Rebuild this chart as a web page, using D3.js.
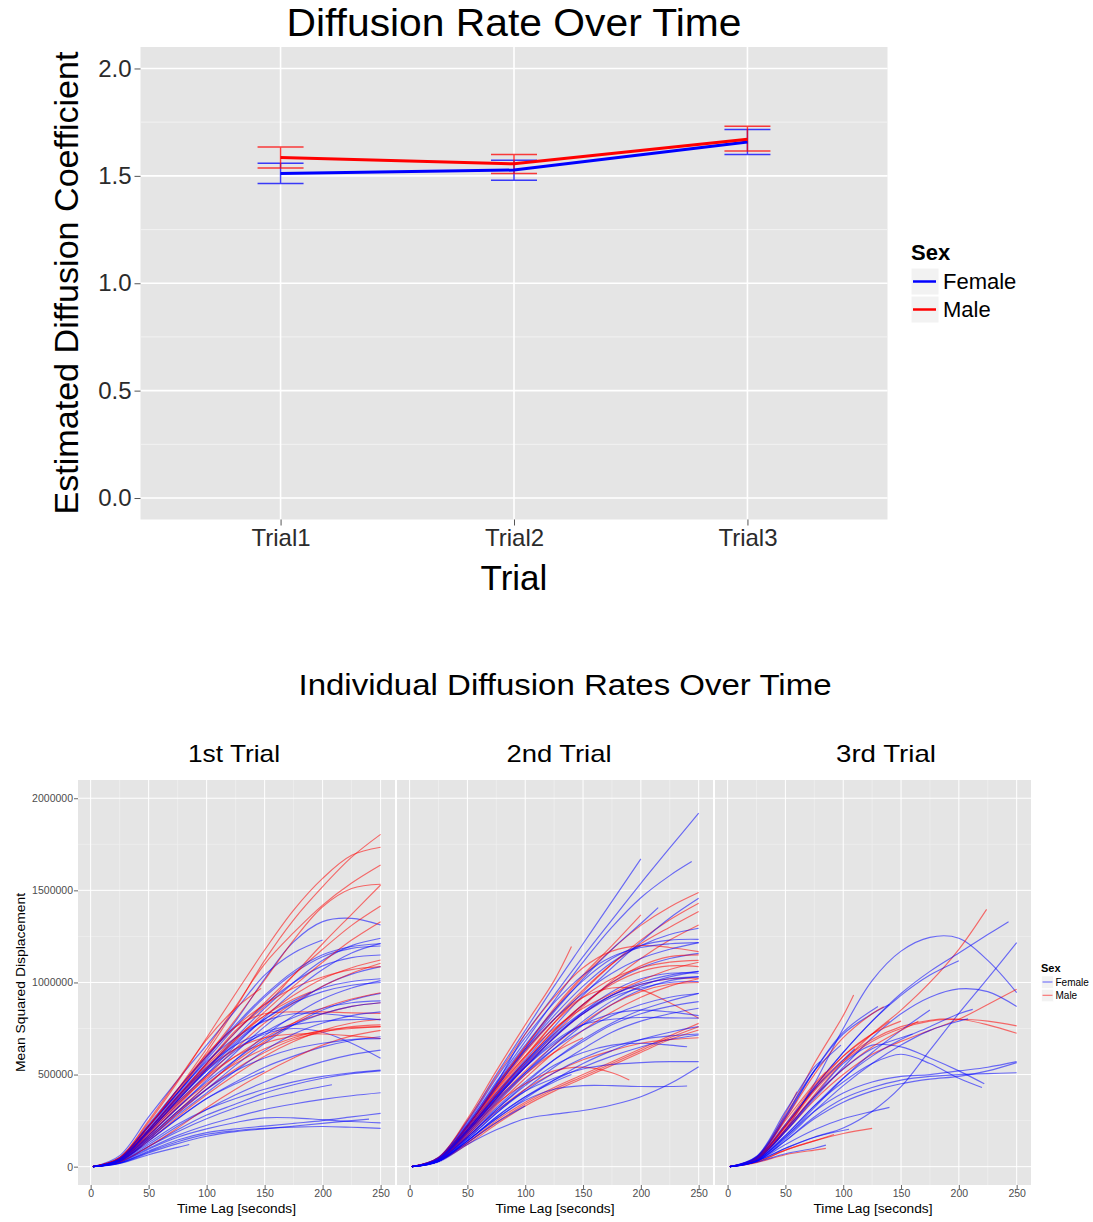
<!DOCTYPE html>
<html>
<head>
<meta charset="utf-8">
<script src="https://cdn.jsdelivr.net/npm/d3@7"></script>
<style>
  body { margin:0; background:#fff; }
  text { font-family: 'Liberation Sans', Arial, Helvetica, sans-serif; }
  .axis path.domain { display:none; }
</style>
</head>
<body>
<svg id="chart" width="1093" height="1222"></svg>
<script>
// ---------- top chart : mean diffusion coefficient per trial ----------
var trials     = ["Trial1", "Trial2", "Trial3"];
var femaleMean = [1.511, 1.527, 1.658];
var femaleLo   = [1.464, 1.480, 1.599];
var femaleHi   = [1.559, 1.573, 1.716];
var maleMean   = [1.585, 1.556, 1.671];
var maleLo     = [1.537, 1.511, 1.616];
var maleHi     = [1.634, 1.599, 1.731];
var coefTicks  = [0, 0.5, 1, 1.5, 2];
var coefMinor  = [0.25, 0.75, 1.25, 1.75];

// ---------- bottom chart : individual MSD curves ----------
// each curve: [end lag, msd (thousands) at lags 2,25,50,... , msd at end lag]
var lagSteps = [2, 25, 50, 75, 100, 125, 150, 175, 200, 225, 250];
var lagTicks = [0, 50, 100, 150, 200, 250];
var lagMinor = [25, 75, 125, 175, 225];
var msdTicks = [0, 500000, 1000000, 1500000, 2000000];
var msdMinor = [250000, 750000, 1250000, 1750000];
var panelTitles = ["1st Trial", "2nd Trial", "3rd Trial"];

var t1Female = [
  [250, 0,50,220,400,590,790,1020,1220,1330,1348,1312],
  [200, 0,60,270,470,660,850,1040,1160,1230],
  [250, 0,40,190,360,530,700,860,1000,1120,1200,1240],
  [250, 0,40,180,340,500,660,810,950,1070,1160,1212],
  [250, 0,45,220,400,580,760,920,1050,1140,1185,1198],
  [250, 0,45,210,390,560,730,880,1000,1090,1135,1149],
  [250, 0,35,170,320,470,620,760,880,980,1045,1086],
  [250, 0,35,160,300,440,580,710,820,910,970,1010],
  [250, 0,30,150,290,420,550,670,770,850,905,941],
  [250, 0,40,190,350,500,630,730,810,860,890,900],
  [250, 0,45,220,400,570,700,790,830,830,815,796],
  [250, 0,30,140,260,370,460,540,600,650,685,705],
  [250, 0,28,120,220,310,390,460,520,570,608,633],
  [250, 0,40,190,360,520,640,720,750,730,670,588],
  [250, 0,30,130,230,310,370,420,460,490,510,524],
  [250, 0,25,110,200,280,340,400,445,480,505,520],
  [208, 0,25,110,190,260,320,370,405,435,445],
  [250, 0,25,100,170,225,270,310,340,365,385,401],
  [250, 0,20,85,145,185,205,220,235,250,270,289],
  [250, 0,22,95,160,205,240,265,265,255,245,238],
  [250, 0,20,80,135,175,195,208,215,218,214,208],
  [240, 0,18,75,125,165,190,205,220,235,250,258],
  [85, 0,18,65,105,120],
  [250, 0,40,190,360,520,670,800,900,970,1005,1020],
  [250, 0,45,230,420,600,770,930,1060,1150,1195,1210],
  [250, 0,35,170,320,460,580,690,770,830,870,890],
  [150, 0,30,140,260,370,450,520],
  [250, 0,30,150,280,400,520,630,720,780,820,840],
  [250, 0,40,200,370,530,680,800,890,950,985,1000],
  [250, 0,40,200,380,540,660,730,770,790,798,800],
  [250, 0,35,160,300,420,520,590,640,670,690,695]
];
var t1Male = [
  [250, 0,45,220,400,620,860,1120,1340,1520,1680,1804],
  [250, 0,50,240,460,700,940,1176,1393,1565,1690,1734],
  [250, 0,45,220,420,640,870,1100,1270,1420,1540,1638],
  [250, 0,45,220,410,600,800,1013,1230,1411,1510,1533],
  [250, 0,40,200,380,560,740,870,1040,1210,1370,1529],
  [250, 0,40,200,380,560,730,890,1040,1180,1310,1415],
  [250, 0,40,190,360,530,690,840,980,1110,1230,1330],
  [250, 0,40,200,370,540,690,820,930,1020,1080,1122],
  [250, 0,35,170,330,490,640,780,890,980,1050,1104],
  [250, 0,45,220,420,600,760,880,970,1030,1070,1086],
  [250, 0,35,160,300,440,570,680,780,860,910,944],
  [250, 0,40,180,340,480,600,700,780,830,870,890],
  [250, 0,45,220,420,610,760,830,840,840,835,832],
  [250, 0,30,140,270,390,500,600,680,740,780,800],
  [250, 0,35,170,320,450,560,640,700,740,755,760],
  [250, 0,30,150,290,420,530,620,690,730,760,770],
  [250, 0,40,200,380,530,640,700,720,720,710,696],
  [147, 0,50,250,470,690,860,968],
  [190, 0,40,200,380,550,700,820,910,950],
  [250, 0,25,110,210,320,420,510,590,660,710,740],
  [250, 0,40,190,350,490,600,670,710,735,750,760]
];

var t2Female = [
  [250, 0,45,220,450,720,930,1140,1340,1538,1730,1919],
  [200, 0,50,250,500,740,980,1210,1440,1671],
  [244, 0,45,230,460,680,900,1110,1300,1460,1580,1656],
  [215, 0,45,220,430,640,840,1020,1180,1320,1406],
  [250, 0,40,200,390,580,760,930,1080,1220,1350,1457],
  [250, 0,45,220,440,640,820,980,1110,1200,1260,1294],
  [250, 0,45,230,450,660,850,1010,1130,1200,1230,1234],
  [250, 0,50,240,480,700,890,1040,1140,1190,1210,1216],
  [250, 0,40,190,380,560,730,880,1000,1080,1130,1158],
  [250, 0,40,190,370,540,700,840,950,1020,1050,1050],
  [250, 0,35,170,340,500,640,770,880,960,1010,1032],
  [250, 0,40,200,390,560,710,830,920,970,1000,1005],
  [250, 0,35,160,310,450,580,690,780,850,900,941],
  [250, 0,35,170,320,460,580,680,770,830,870,896],
  [250, 0,30,150,290,420,540,640,730,790,830,860],
  [250, 0,40,190,370,540,680,770,800,810,808,806],
  [250, 0,30,140,260,370,470,560,630,690,730,760],
  [250, 0,30,140,270,380,470,540,600,650,690,715],
  [250, 0,35,160,300,410,480,530,555,565,570,570],
  [250, 0,25,120,200,260,285,305,335,380,450,543],
  [240, 0,35,160,310,440,550,620,660,670,660,651],
  [240, 0,30,140,260,360,420,440,440,435,435,438],
  [250, 0,40,200,380,550,700,830,930,1000,1040,1060],
  [250, 0,45,210,400,570,720,840,930,990,1020,1030],
  [250, 0,35,180,350,510,660,790,900,980,1030,1060],
  [250, 0,40,190,360,510,640,740,820,880,920,940],
  [140, 0,30,140,270,380,460,500],
  [100, 0,30,130,240,330],
  [250, 0,45,220,430,630,800,940,1050,1130,1180,1216],
  [250, 0,40,200,380,540,670,770,830,850,840,820],
  [250, 0,30,150,290,410,510,590,650,690,710,720]
];
var t2Male = [
  [140, 0,50,260,520,770,1010,1195],
  [250, 0,45,220,440,650,850,1030,1180,1310,1410,1488],
  [250, 0,40,200,400,590,780,950,1100,1230,1340,1430],
  [250, 0,45,210,420,620,800,960,1100,1210,1300,1385],
  [250, 0,40,190,370,550,720,870,1010,1130,1230,1312],
  [200, 0,45,220,440,650,860,1040,1200,1367],
  [250, 0,50,250,490,720,920,1080,1170,1200,1190,1167],
  [250, 0,40,200,390,570,740,880,990,1060,1090,1086],
  [250, 0,40,190,370,540,700,830,930,990,1020,1023],
  [250, 0,45,220,430,630,800,920,970,960,890,806],
  [250, 0,30,130,250,350,430,500,570,640,710,778],
  [250, 0,30,120,230,330,410,480,550,620,690,742],
  [250, 0,45,210,410,600,780,920,1020,1080,1110,1120],
  [250, 0,40,200,390,570,740,880,1000,1090,1140,1150],
  [190, 0,40,180,340,450,520,540,510,470],
  [250, 0,35,160,300,420,510,580,630,670,690,700],
  [250, 0,35,170,330,480,620,740,840,920,980,1020],
  [250, 0,40,190,360,520,660,780,880,950,990,1000],
  [250, 0,30,130,240,340,420,490,560,630,700,760],
  [150, 0,40,180,350,500,620,700],
  [250, 0,45,220,420,600,750,860,940,1010,1070,1110]
];

var t3Female = [
  [250, 0,40,200,450,750,1010,1170,1245,1240,1120,945],
  [243, 0,45,220,430,620,790,940,1060,1160,1260,1330],
  [200, 0,45,220,430,620,790,930,1040,1118],
  [250, 0,40,190,370,540,700,830,920,965,950,869],
  [250, 0,30,100,160,210,300,434,633,832,1022,1216],
  [222, 0,40,190,380,560,660,650,590,520,450],
  [220, 0,35,170,330,460,560,610,560,480,430],
  [250, 0,35,160,300,400,460,490,500,520,540,570],
  [250, 0,30,140,270,370,430,470,490,500,505,510],
  [250, 0,30,140,260,350,410,450,475,490,520,565],
  [175, 0,35,160,320,480,620,740,850],
  [212, 0,35,170,330,480,600,690,760,830,854],
  [208, 0,30,150,300,440,560,660,740,790,802],
  [140, 0,50,260,520,720,830,880],
  [98, 0,55,280,520,660],
  [80, 0,55,300,540,570],
  [140, 0,30,120,200,260,300,322],
  [105, 0,30,100,160,203],
  [85, 0,25,70,100,117],
  [160, 0,40,200,380,530,640,700,720],
  [130, 0,50,270,520,730,870],
  [110, 0,45,230,420,580,640]
];
var t3Male = [
  [224, 0,40,200,390,570,720,850,1000,1180,1397],
  [109, 0,50,270,560,820,932],
  [250, 0,40,190,360,500,610,680,740,800,880,963],
  [250, 0,45,210,410,570,680,750,790,800,790,764],
  [250, 0,45,220,420,580,690,760,795,800,770,724],
  [150, 0,45,220,420,600,720,790],
  [125, 0,25,90,140,180,208],
  [92, 0,25,90,140,175],
  [85, 0,22,65,90,99],
  [60, 0,50,290,407],
  [85, 0,45,250,450,515],
  [165, 0,40,200,380,530,650,740,790],
  [140, 0,45,230,440,600,720,790],
  [135, 0,50,260,500,700,830,868]
];

var FEMALE = "#0000ff", MALE = "#ff0000";
var BG = "#e5e5e5", MINOR = "#f2f2f2";

var svg = d3.select("#chart");
svg.append("rect").attr("width", 1093).attr("height", 1222).attr("fill", "#fff");

// =================== TOP CHART ===================
var topG = svg.append("g");
var px0 = 140.5, px1 = 887.5, py0 = 47, py1 = 519.5;
var xT = d3.scalePoint().domain(trials).range([px0, px1]).padding(0.6);
var yT = d3.scaleLinear().domain([-0.1, 2.1]).range([py1, py0]);

topG.append("rect").attr("x", px0).attr("y", py0)
  .attr("width", px1 - px0).attr("height", py1 - py0).attr("fill", BG);

topG.selectAll(".minor").data(coefMinor).enter().append("line")
  .attr("x1", px0).attr("x2", px1)
  .attr("y1", d => yT(d)).attr("y2", d => yT(d))
  .attr("stroke", MINOR).attr("stroke-width", 1);
topG.selectAll(".hgrid").data(coefTicks).enter().append("line")
  .attr("x1", px0).attr("x2", px1)
  .attr("y1", d => yT(d)).attr("y2", d => yT(d))
  .attr("stroke", "#fff").attr("stroke-width", 1.6);
topG.selectAll(".vgrid").data(trials).enter().append("line")
  .attr("y1", py0).attr("y2", py1)
  .attr("x1", d => xT(d)).attr("x2", d => xT(d))
  .attr("stroke", "#fff").attr("stroke-width", 1.6);

var yAxT = topG.append("g").attr("class", "axis").attr("transform", "translate(" + px0 + ",0)")
  .call(d3.axisLeft(yT).tickValues(coefTicks).tickSize(6).tickPadding(3).tickFormat(d3.format(".1f")));
var xAxT = topG.append("g").attr("class", "axis").attr("transform", "translate(0," + py1 + ")")
  .call(d3.axisBottom(xT).tickSize(6).tickPadding(3.5));
[yAxT, xAxT].forEach(function(a) {
  a.selectAll("line").attr("stroke", "#555");
  a.selectAll("text").attr("fill", "#2b2b2b").style("font-size", "24px")
    .style("font-family", "'Liberation Sans', Arial, sans-serif");
});

var groups = [
  {name: "Female", color: FEMALE, mean: femaleMean, lo: femaleLo, hi: femaleHi},
  {name: "Male",   color: MALE,   mean: maleMean,   lo: maleLo,   hi: maleHi}
];
groups.forEach(function(g) {
  var eb = topG.append("g").attr("stroke", g.color).attr("stroke-width", 1.5).attr("opacity", 0.75);
  trials.forEach(function(t, i) {
    var cx = xT(t);
    eb.append("line").attr("x1", cx).attr("x2", cx).attr("y1", yT(g.lo[i])).attr("y2", yT(g.hi[i]));
    eb.append("line").attr("x1", cx - 23).attr("x2", cx + 23).attr("y1", yT(g.lo[i])).attr("y2", yT(g.lo[i]));
    eb.append("line").attr("x1", cx - 23).attr("x2", cx + 23).attr("y1", yT(g.hi[i])).attr("y2", yT(g.hi[i]));
  });
});
groups.forEach(function(g) {
  topG.append("path")
    .attr("d", d3.line().x((d, i) => xT(trials[i])).y(d => yT(d))(g.mean))
    .attr("fill", "none").attr("stroke", g.color).attr("stroke-width", 3);
});

topG.append("text").attr("x", 514).attr("y", 36).attr("text-anchor", "middle")
  .attr("textLength", 455).attr("lengthAdjust", "spacingAndGlyphs")
  .style("font-size", "38px").text("Diffusion Rate Over Time");
topG.append("text").attr("x", 514).attr("y", 590).attr("text-anchor", "middle")
  .style("font-size", "35px").text("Trial");
topG.append("text").attr("transform", "translate(78,283) rotate(-90)").attr("text-anchor", "middle")
  .attr("textLength", 463).attr("lengthAdjust", "spacingAndGlyphs")
  .style("font-size", "34px").text("Estimated Diffusion Coefficient");

// legend (top)
var lg = topG.append("g").attr("transform", "translate(911,0)");
lg.append("text").attr("x", 0).attr("y", 260).style("font-size", "22px").style("font-weight", "bold").text("Sex");
groups.forEach(function(g, i) {
  var y0 = 268 + i * 28;
  lg.append("rect").attr("x", 0).attr("y", y0).attr("width", 28).attr("height", 27)
    .attr("fill", "#f2f2f2").attr("stroke", "#fff");
  lg.append("line").attr("x1", 2).attr("x2", 25).attr("y1", y0 + 13.5).attr("y2", y0 + 13.5)
    .attr("stroke", g.color).attr("stroke-width", 2.5);
  lg.append("text").attr("x", 32).attr("y", y0 + 21).style("font-size", "22px").text(g.name);
});

// =================== BOTTOM CHART ===================
var bot = svg.append("g");
bot.append("text").attr("x", 565).attr("y", 695).attr("text-anchor", "middle")
  .attr("textLength", 533).attr("lengthAdjust", "spacingAndGlyphs")
  .style("font-size", "29px").text("Individual Diffusion Rates Over Time");

var by0 = 780, by1 = 1185;
var yB = d3.scaleLinear().domain([-99500, 2099000]).range([by1, by0]);
var panels = [
  {x0: 78,  x1: 395,  female: t1Female, male: t1Male, tx: 234, tw: 92},
  {x0: 397, x1: 713,  female: t2Female, male: t2Male, tx: 559, tw: 105},
  {x0: 715, x1: 1031, female: t3Female, male: t3Male, tx: 886, tw: 100}
];

function curvePoints(c) {
  var end = c[0], vals = c.slice(1);
  return vals.map(function(v, i) {
    return [i < vals.length - 1 ? lagSteps[i] : end, v * 1000];
  });
}

panels.forEach(function(p, pi) {
  var g = bot.append("g");
  var xB = d3.scaleLinear().domain([-10.9, 262.4]).range([p.x0, p.x1]);

  g.append("rect").attr("x", p.x0).attr("y", by0).attr("width", p.x1 - p.x0)
    .attr("height", by1 - by0).attr("fill", BG);
  g.selectAll(".hm").data(msdMinor).enter().append("line")
    .attr("x1", p.x0).attr("x2", p.x1).attr("y1", d => yB(d)).attr("y2", d => yB(d))
    .attr("stroke", MINOR).attr("stroke-width", 0.6);
  g.selectAll(".vm").data(lagMinor).enter().append("line")
    .attr("y1", by0).attr("y2", by1).attr("x1", d => xB(d)).attr("x2", d => xB(d))
    .attr("stroke", MINOR).attr("stroke-width", 0.6);
  g.selectAll(".hg").data(msdTicks).enter().append("line")
    .attr("x1", p.x0).attr("x2", p.x1).attr("y1", d => yB(d)).attr("y2", d => yB(d))
    .attr("stroke", "#fff").attr("stroke-width", 1);
  g.selectAll(".vg").data(lagTicks).enter().append("line")
    .attr("y1", by0).attr("y2", by1).attr("x1", d => xB(d)).attr("x2", d => xB(d))
    .attr("stroke", "#fff").attr("stroke-width", 1);

  // interleave female / male curves so neither colour sits fully on top
  var all = [];
  var n = Math.max(p.female.length, p.male.length);
  for (var i = 0; i < n; i++) {
    if (p.female[i]) all.push({c: p.female[i], color: FEMALE});
    if (p.male[i]) all.push({c: p.male[i], color: MALE});
  }
  var line = d3.line().x(d => xB(d[0])).y(d => yB(d[1])).curve(d3.curveCatmullRom.alpha(0.5));
  g.selectAll(".msd").data(all).enter().append("path")
    .attr("d", d => line(curvePoints(d.c)))
    .attr("fill", "none").attr("stroke", d => d.color)
    .attr("stroke-width", 1.15).attr("stroke-opacity", 0.55);

  var xa = g.append("g").attr("class", "axis").attr("transform", "translate(0," + by1 + ")")
    .call(d3.axisBottom(xB).tickValues(lagTicks).tickSize(4).tickPadding(1));
  xa.selectAll("line").attr("stroke", "#666");
  xa.selectAll("text").attr("fill", "#4d4d4d").style("font-size", "10.5px");

  if (pi === 0) {
    var ya = g.append("g").attr("class", "axis").attr("transform", "translate(" + p.x0 + ",0)")
      .call(d3.axisLeft(yB).tickValues(msdTicks).tickSize(4).tickPadding(1).tickFormat(d3.format("d")));
    ya.selectAll("line").attr("stroke", "#666");
    ya.selectAll("text").attr("fill", "#4d4d4d").style("font-size", "10.5px");
    g.append("text").attr("transform", "translate(25," + ((by0 + by1) / 2) + ") rotate(-90)")
      .attr("text-anchor", "middle").attr("textLength", 179).attr("lengthAdjust", "spacingAndGlyphs")
      .style("font-size", "12.5px").text("Mean Squared Displacement");
  }
  g.append("text").attr("x", (p.x0 + p.x1) / 2).attr("y", 1213).attr("text-anchor", "middle")
    .attr("textLength", 119).attr("lengthAdjust", "spacingAndGlyphs")
    .style("font-size", "13px").text("Time Lag [seconds]");
  g.append("text").attr("x", p.tx).attr("y", 762).attr("text-anchor", "middle")
    .attr("textLength", p.tw).attr("lengthAdjust", "spacingAndGlyphs")
    .style("font-size", "24px").text(panelTitles[pi]);
});

// legend (bottom)
var lb = bot.append("g").attr("transform", "translate(1041,0)");
lb.append("text").attr("x", 0).attr("y", 972).style("font-size", "11px").style("font-weight", "bold").text("Sex");
groups.forEach(function(g, i) {
  var y0 = 976 + i * 13.3;
  lb.append("rect").attr("x", 0.7).attr("y", y0).attr("width", 11.6).attr("height", 12.3)
    .attr("fill", "#f2f2f2").attr("stroke", "#fff").attr("stroke-width", 0.5);
  lb.append("line").attr("x1", 1.5).attr("x2", 11.5).attr("y1", y0 + 6).attr("y2", y0 + 6)
    .attr("stroke", g.color).attr("stroke-opacity", 0.55).attr("stroke-width", 1.1);
  lb.append("text").attr("x", 14.5).attr("y", y0 + 9.8).style("font-size", "10px").text(g.name);
});
</script>
</body>
</html>
